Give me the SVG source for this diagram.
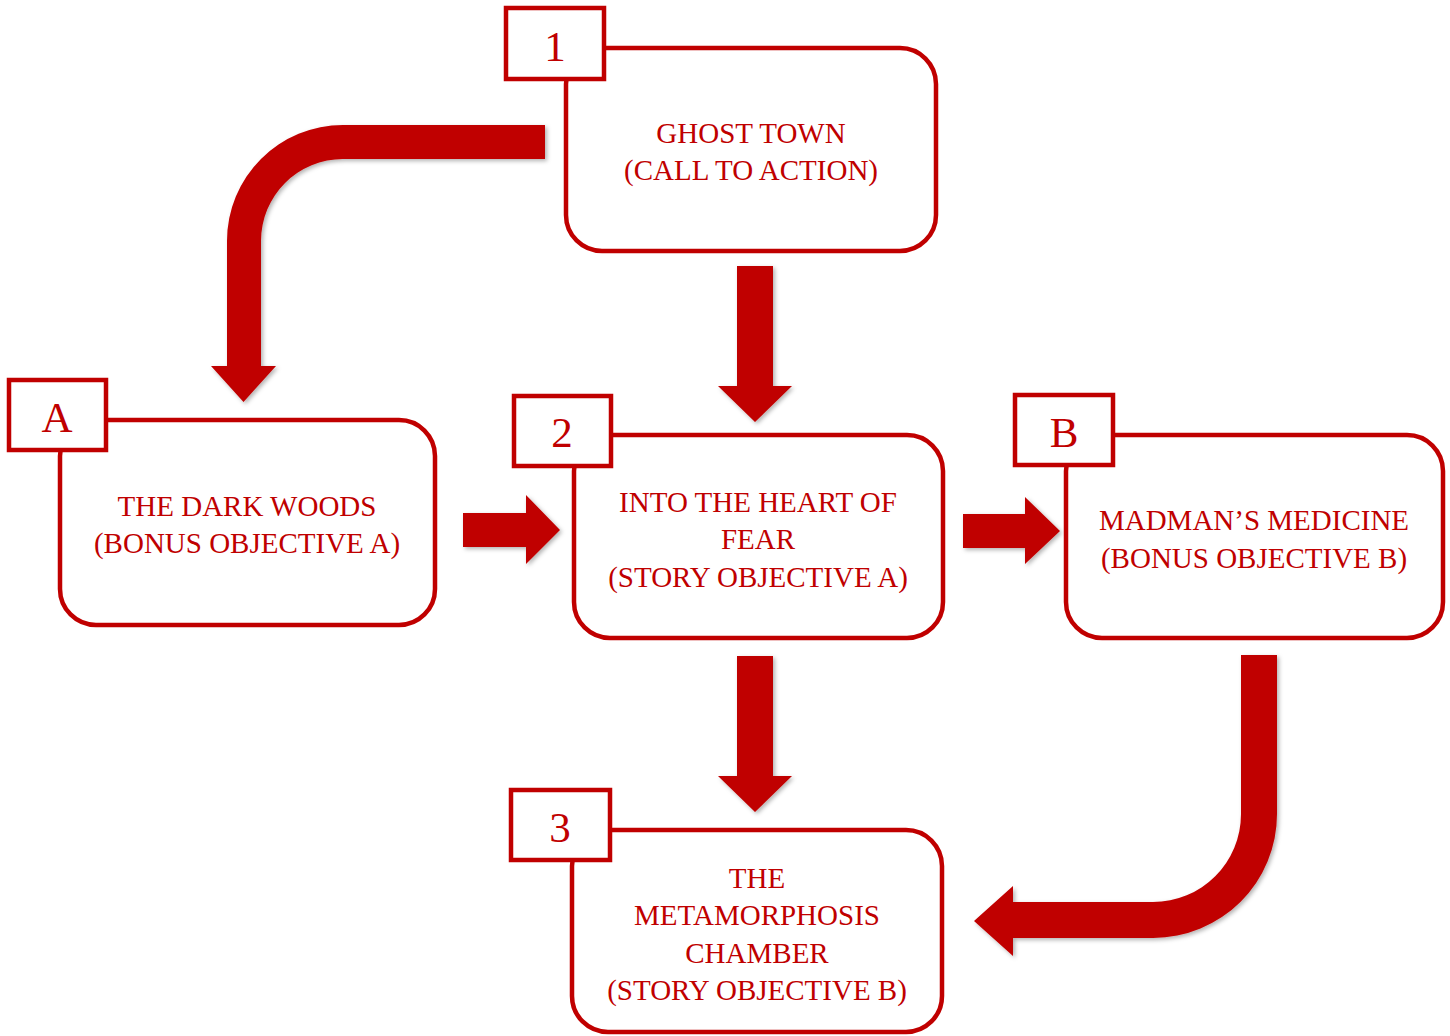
<svg xmlns="http://www.w3.org/2000/svg" width="1450" height="1036" viewBox="0 0 1450 1036">
<defs>
<filter id="sh" x="-10%" y="-10%" width="130%" height="130%">
<feDropShadow dx="2" dy="2" stdDeviation="2" flood-color="#000" flood-opacity="0.3"/>
</filter>
<style>
.box{fill:#fff;stroke:#C00000;stroke-width:4.5}
.lbl{fill:#fff;stroke:#C00000;stroke-width:4.5}
.t{font-family:"Liberation Serif","Times New Roman",serif;font-size:29px;fill:#C00000;text-anchor:middle}
.n{font-family:"Liberation Serif","Times New Roman",serif;font-size:43px;fill:#C00000;text-anchor:middle}
.arr{fill:#C00000;filter:url(#sh)}
</style>
</defs>
<rect width="1450" height="1036" fill="#fff"/>
<g id="connectors">
<path class="arr" d="M545,125 L343,125 A116,116 0 0 0 227,241 L227,366 L211,366 L243.5,402 L276,366 L261,366 L261,241 A82,82 0 0 1 343,159 L545,159 Z"/>
<path class="arr" d="M737,266 L773,266 L773,386 L792,386 L755,422 L718,386 L737,386 Z"/>
<path class="arr" d="M463,513 L526,513 L526,495 L560,530 L526,564 L526,547 L463,547 Z"/>
<path class="arr" d="M963,514 L1025,514 L1025,497 L1060,531 L1025,564 L1025,548 L963,548 Z"/>
<path class="arr" d="M737,656 L773,656 L773,776 L792,776 L755,812 L718,776 L737,776 Z"/>
<path class="arr" d="M1241,655 L1277,655 L1277,814 A124,124 0 0 1 1153,938 L1013,938 L1013,956 L974,921 L1013,886 L1013,902 L1153,902 A88,88 0 0 0 1241,814 Z"/>
</g>
<g id="node-1">
<rect class="box" x="566" y="48" width="370" height="203" rx="36"/>
<rect class="lbl" x="506" y="8" width="98" height="71"/>
<text class="n" x="555" y="61">1</text>
<text class="t" x="751" y="143">GHOST TOWN</text>
<text class="t" x="751" y="180">(CALL TO ACTION)</text>
</g>
<g id="node-A">
<rect class="box" x="60" y="420" width="375" height="205" rx="36"/>
<rect class="lbl" x="9" y="380" width="97" height="70"/>
<text class="n" x="57" y="432">A</text>
<text class="t" x="247" y="516">THE DARK WOODS</text>
<text class="t" x="247" y="553">(BONUS OBJECTIVE A)</text>
</g>
<g id="node-2">
<rect class="box" x="574" y="435" width="369" height="203" rx="36"/>
<rect class="lbl" x="514" y="396" width="97" height="70"/>
<text class="n" x="562" y="447">2</text>
<text class="t" x="758" y="512">INTO THE HEART OF</text>
<text class="t" x="758" y="549">FEAR</text>
<text class="t" x="758" y="587">(STORY OBJECTIVE A)</text>
</g>
<g id="node-B">
<rect class="box" x="1066" y="435" width="377" height="203" rx="36"/>
<rect class="lbl" x="1015" y="395" width="98" height="70"/>
<text class="n" x="1064" y="447">B</text>
<text class="t" x="1254" y="530">MADMAN’S MEDICINE</text>
<text class="t" x="1254" y="568">(BONUS OBJECTIVE B)</text>
</g>
<g id="node-3">
<rect class="box" x="572" y="830" width="370" height="202" rx="36"/>
<rect class="lbl" x="511" y="790" width="99" height="70"/>
<text class="n" x="560" y="842">3</text>
<text class="t" x="757" y="888">THE</text>
<text class="t" x="757" y="925">METAMORPHOSIS</text>
<text class="t" x="757" y="963">CHAMBER</text>
<text class="t" x="757" y="1000">(STORY OBJECTIVE B)</text>
</g>
</svg>
